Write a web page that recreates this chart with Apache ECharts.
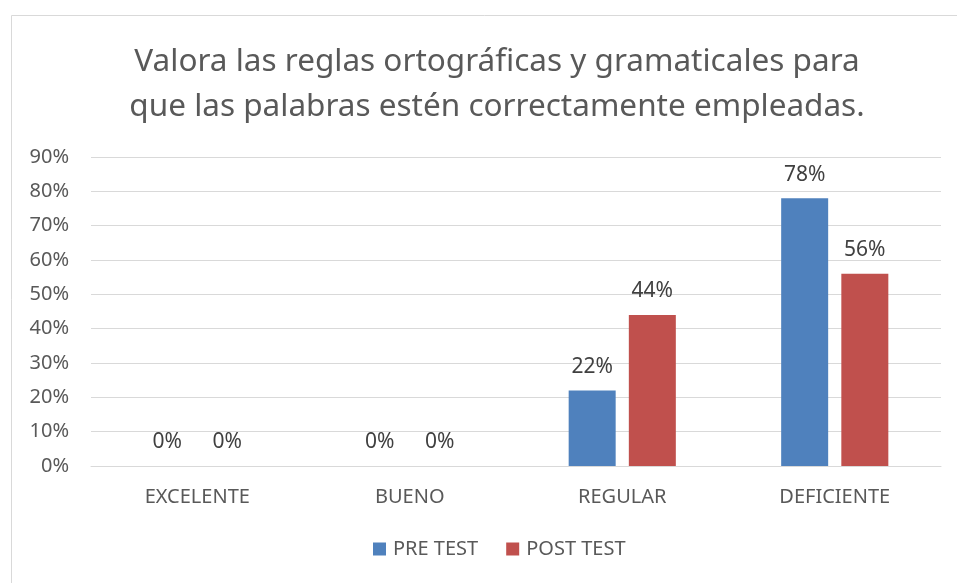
<!DOCTYPE html>
<html>
<head>
<meta charset="utf-8">
<script src="https://cdn.jsdelivr.net/npm/echarts@6/dist/echarts.min.js"></script>
<style>
  html, body { margin: 0; padding: 0; background: #fff; }
  #chart { width: 957px; height: 583px; }
</style>
</head>
<body>
<div id="chart"></div>
<script>
// chart data (percent)
const categories = ["EXCELENTE", "BUENO", "REGULAR", "DEFICIENTE"];
const preTest = [0, 0, 22, 78];
const postTest = [0, 0, 44, 56];
const seriesNames = ["PRE TEST", "POST TEST"];

const FONT = "Noto Sans, sans-serif";
const COL = { pre: "#4f81bd", post: "#c0504d" };

const chart = echarts.init(document.getElementById("chart"));

const valueLabel = {
  show: true, position: "top", distance: 13,
  formatter: (p) => p.value + "%",
  fontFamily: FONT, fontSize: 21, color: "#404040",
};

chart.setOption({
  animation: false,
  textStyle: { fontFamily: FONT },
  graphic: [{
    type: "rect", left: 9, top: 13, silent: true,
    shape: { width: 960, height: 580 },
    style: { fill: "none", stroke: "#d9d9d9", lineWidth: 1 },
  }],
  title: {
    text: "Valora las reglas ortográficas y gramaticales para\nque las palabras estén correctamente empleadas.",
    left: 492, top: 35, textAlign: "center",
    textStyle: { fontFamily: FONT, fontSize: 31.5, fontWeight: "normal", color: "#595959", lineHeight: 45 },
  },
  grid: { left: 91, right: 16, top: 157, bottom: 117 },
  legend: {
    data: seriesNames, bottom: 19, left: 368,
    itemWidth: 13, itemHeight: 13, itemGap: 28, icon: "rect",
    textStyle: { fontFamily: FONT, fontSize: 20, color: "#595959", padding: [0, 0, 0, 2] },
  },
  xAxis: {
    type: "category", data: categories,
    axisLine: { lineStyle: { color: "#d9d9d9" } },
    axisTick: { show: false },
    axisLabel: { fontFamily: FONT, fontSize: 20, color: "#595959", margin: 21 },
  },
  yAxis: {
    type: "value", min: 0, max: 90, interval: 10,
    axisLabel: { formatter: "{value}%", fontFamily: FONT, fontSize: 20, color: "#595959", margin: 22 },
    splitLine: { lineStyle: { color: "#d9d9d9" } },
    axisLine: { show: false }, axisTick: { show: false },
  },
  series: [
    { name: seriesNames[0], type: "bar", data: preTest, barWidth: 47, barGap: "28%",
      itemStyle: { color: COL.pre }, label: valueLabel },
    { name: seriesNames[1], type: "bar", data: postTest, barWidth: 47,
      itemStyle: { color: COL.post }, label: valueLabel },
  ],
});
</script>
</body>
</html>
